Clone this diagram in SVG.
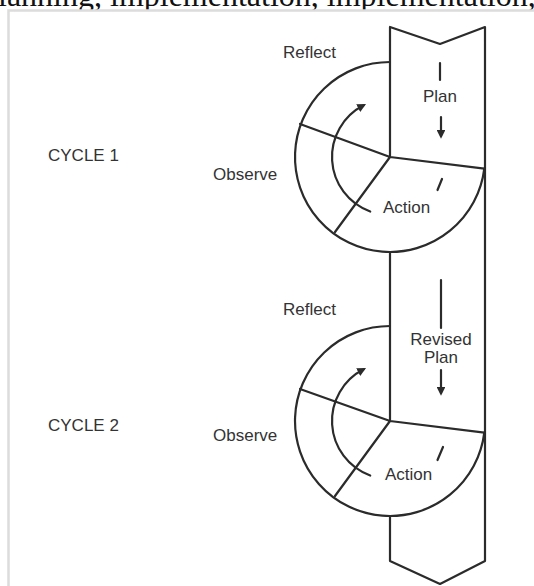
<svg xmlns="http://www.w3.org/2000/svg" width="534" height="586" viewBox="0 0 534 586">
  <style>
    .ln { fill: none; stroke: #2b2b2b; stroke-width: 2.2; stroke-linecap: round; stroke-linejoin: round; }
    .lbl { font-family: "Liberation Sans", Arial, sans-serif; font-size: 17px; fill: #333333; }
    .mid { text-anchor: middle; }
  </style>
  <defs>
    <marker id="ah" viewBox="0 0 10 10" refX="7" refY="5" markerWidth="4" markerHeight="4" orient="auto" markerUnits="strokeWidth">
      <path d="M0 0 L10 5 L0 10 Z" fill="#2b2b2b"/>
    </marker>
  </defs>
  <rect x="0" y="0" width="534" height="586" fill="#ffffff"/>
  <text x="-2" y="6" font-family="'Liberation Serif', 'Times New Roman', serif" font-size="32" fill="#111111">lanning, implementation, implementation,</text>
  <rect x="8.5" y="10.5" width="600" height="700" fill="#ffffff" stroke="#dcdcdc" stroke-width="2.5"/>

  <g id="cycle1-label"><text class="lbl" x="48" y="161">CYCLE 1</text></g>
  <g id="cycle2-label"><text class="lbl" x="48" y="431">CYCLE 2</text></g>

  <g id="plan-strip">
    <path class="ln" d="M390 27 L390 157 M390 252 L390 421 M390 516 L390 561 L440 584 L485 561 L485 27 L440 44 L390 27"/>
  </g>

  <g id="cycle1">
    <path class="ln" d="M390 62 A95 95 0 1 0 484.3 168.6"/>
    <path class="ln" d="M300 124 L390 157 L484.3 168.6 M390 157 L335 232"/>
    <line class="ln" x1="442" y1="179" x2="437.5" y2="190" stroke-width="1.8"/>
  </g>
  <g id="cycle1-reflect"><text class="lbl" x="283" y="58">Reflect</text></g>
  <g id="cycle1-plan"><text class="lbl mid" x="440" y="102">Plan</text></g>
  <g id="cycle1-observe"><text class="lbl" x="213" y="180">Observe</text></g>
  <g id="cycle1-action"><text class="lbl" x="383" y="213">Action</text></g>

  <g id="cycle2">
    <path class="ln" d="M390 326 A95 95 0 1 0 484.3 432.6"/>
    <path class="ln" d="M300 389 L390 421 L484.3 432.6 M390 421 L335 496"/>
    <line class="ln" x1="443" y1="447" x2="437.5" y2="460" stroke-width="1.8"/>
  </g>
  <g id="cycle2-reflect"><text class="lbl" x="283" y="315">Reflect</text></g>
  <g id="cycle2-plan"><text class="lbl mid" x="441" y="345">Revised</text><text class="lbl mid" x="441" y="363">Plan</text></g>
  <g id="cycle2-observe"><text class="lbl" x="213" y="441">Observe</text></g>
  <g id="cycle2-action"><text class="lbl" x="385" y="480">Action</text></g>

  <g id="connectors">
    <line class="ln" x1="440" y1="63" x2="440" y2="80"/>
    <line class="ln" x1="441" y1="117" x2="441" y2="136" marker-end="url(#ah)"/>
    <path class="ln" d="M370.2 211.5 A58 58 0 0 1 363.7 105.3" marker-end="url(#ah)"/>
    <line class="ln" x1="441" y1="280" x2="441" y2="328"/>
    <line class="ln" x1="441" y1="370" x2="441" y2="393" marker-end="url(#ah)"/>
    <path class="ln" d="M370.2 475.5 A58 58 0 0 1 363.7 369.3" marker-end="url(#ah)"/>
  </g>
</svg>
